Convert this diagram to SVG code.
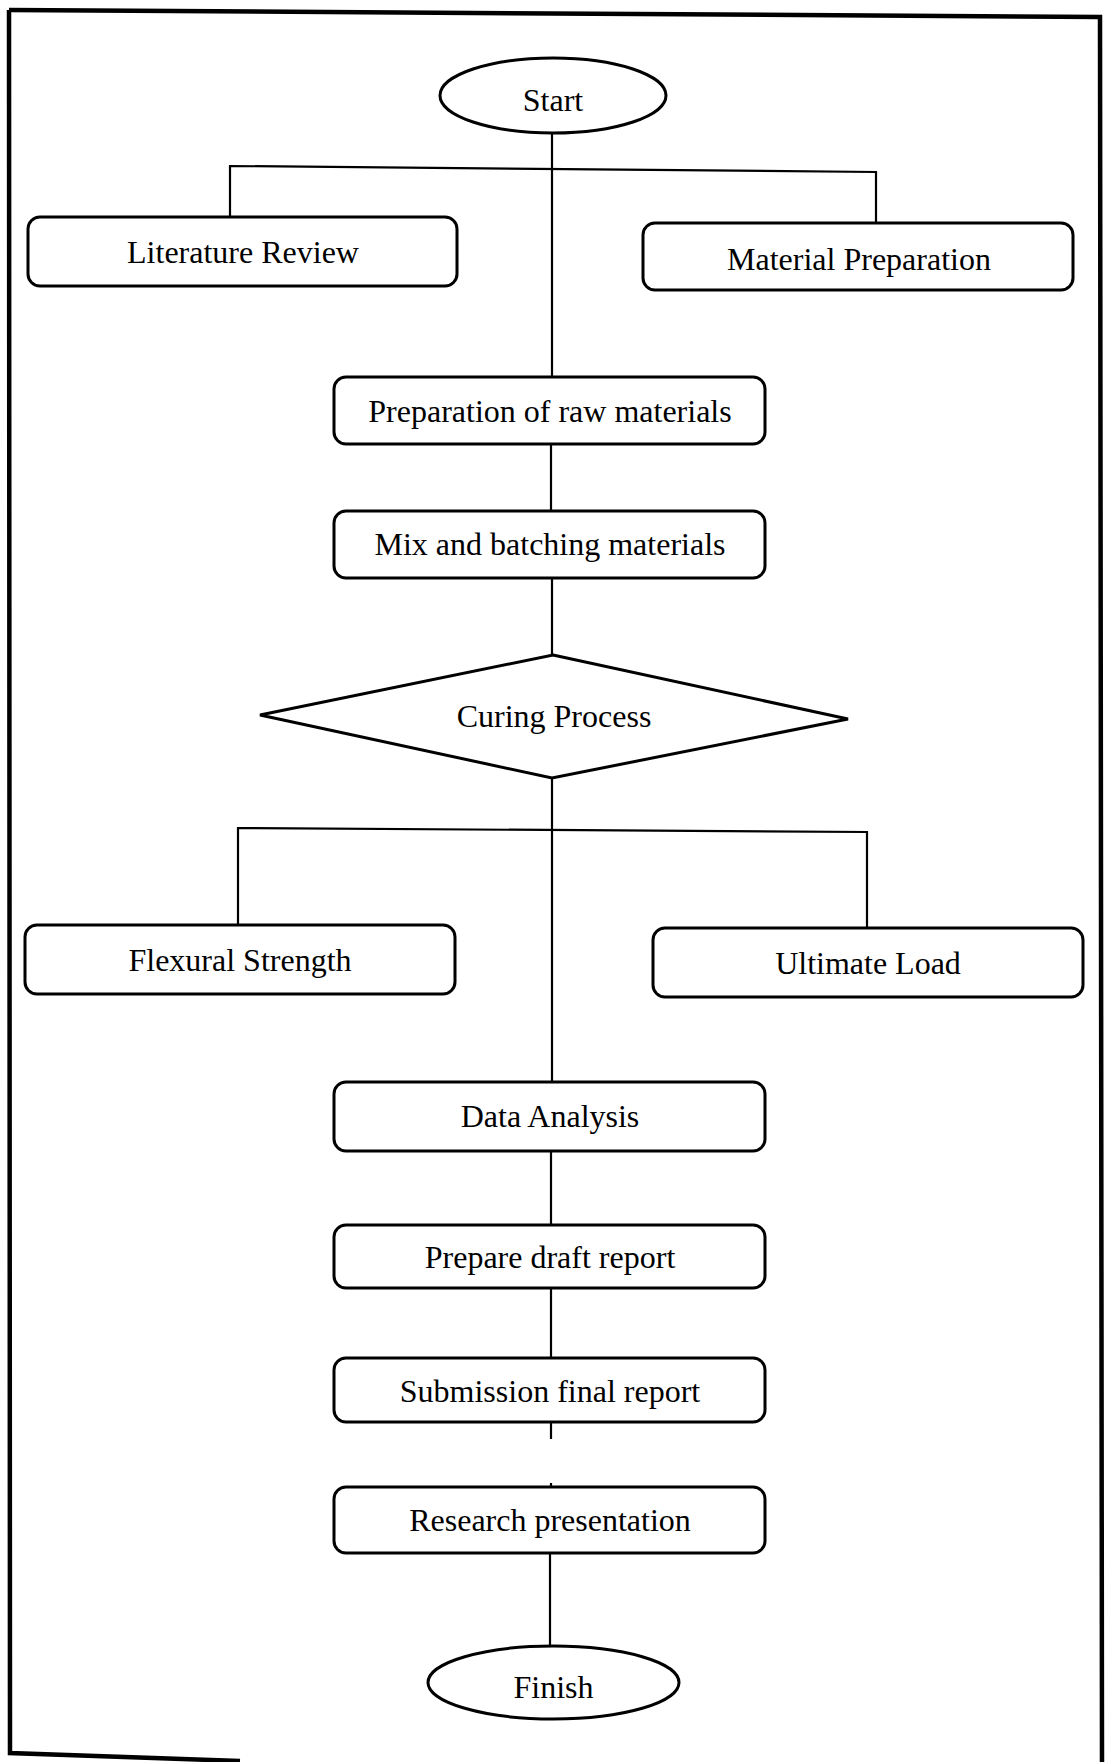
<svg xmlns="http://www.w3.org/2000/svg" width="1105" height="1762" viewBox="0 0 1105 1762">
<style>
.box{fill:#fff;stroke:#000;stroke-width:3}
.term{fill:#fff;stroke:#000;stroke-width:3}
.con{fill:none;stroke:#000;stroke-width:2.2}
.frame{fill:none;stroke:#000;stroke-width:4.5}
text{font-family:"Liberation Serif","Times New Roman",serif;fill:#000;text-anchor:middle}
.t{font-size:32px}
.ts{font-size:32px}
</style>
<rect width="1105" height="1762" fill="#fff"/>
<g id="frame">
<path class="frame" d="M9,10 L1100,17 L1102,1762"/>
<path class="frame" d="M9,10 L10,1753 L240,1761"/>
</g>
<g id="connectors">
<path class="con" d="M552,133 V377"/>
<path class="con" d="M230,217 V166 L876,172 V223"/>
<path class="con" d="M551,444 V511"/>
<path class="con" d="M552,578 V655"/>
<path class="con" d="M552,778 V1082"/>
<path class="con" d="M238,925 V828 L867,832 V928"/>
<path class="con" d="M551,1151 V1225"/>
<path class="con" d="M551,1288 V1358"/>
<path class="con" d="M551,1422 V1439"/>
<path class="con" d="M551,1483 V1487"/>
<path class="con" d="M550,1553 V1646"/>
</g>
<g id="start">
<ellipse class="term" cx="553" cy="95.5" rx="113" ry="37.5"/>
<text class="t" x="553" y="111">Start</text>
</g>
<g id="literature-review">
<rect class="box" x="28" y="217" width="429" height="69" rx="12"/>
<text class="ts" x="243" y="263">Literature Review</text>
</g>
<g id="material-preparation">
<rect class="box" x="643" y="223" width="430" height="67" rx="12"/>
<text class="ts" x="859" y="270">Material Preparation</text>
</g>
<g id="preparation-raw">
<rect class="box" x="334" y="377" width="431" height="67" rx="12"/>
<text class="t" x="550" y="422">Preparation of raw materials</text>
</g>
<g id="mix-batching">
<rect class="box" x="334" y="511" width="431" height="67" rx="12"/>
<text class="t" x="550" y="555">Mix and batching materials</text>
</g>
<g id="curing-process">
<polygon class="box" points="553,655 848,719 552,778 260,715"/>
<text class="t" x="554" y="727">Curing Process</text>
</g>
<g id="flexural-strength">
<rect class="box" x="25" y="925" width="430" height="69" rx="12"/>
<text class="ts" x="240" y="971">Flexural Strength</text>
</g>
<g id="ultimate-load">
<rect class="box" x="653" y="928" width="430" height="69" rx="12"/>
<text class="ts" x="868" y="974">Ultimate Load</text>
</g>
<g id="data-analysis">
<rect class="box" x="334" y="1082" width="431" height="69" rx="12"/>
<text class="t" x="550" y="1127">Data Analysis</text>
</g>
<g id="prepare-draft">
<rect class="box" x="334" y="1225" width="431" height="63" rx="12"/>
<text class="t" x="550" y="1268">Prepare draft report</text>
</g>
<g id="submission-final">
<rect class="box" x="334" y="1358" width="431" height="64" rx="12"/>
<text class="t" x="550" y="1402">Submission final report</text>
</g>
<g id="research-presentation">
<rect class="box" x="334" y="1487" width="431" height="66" rx="12"/>
<text class="t" x="550" y="1531">Research presentation</text>
</g>
<g id="finish">
<ellipse class="term" cx="553.5" cy="1682.5" rx="125.5" ry="36.5"/>
<text class="t" x="553.5" y="1698">Finish</text>
</g>
</svg>
